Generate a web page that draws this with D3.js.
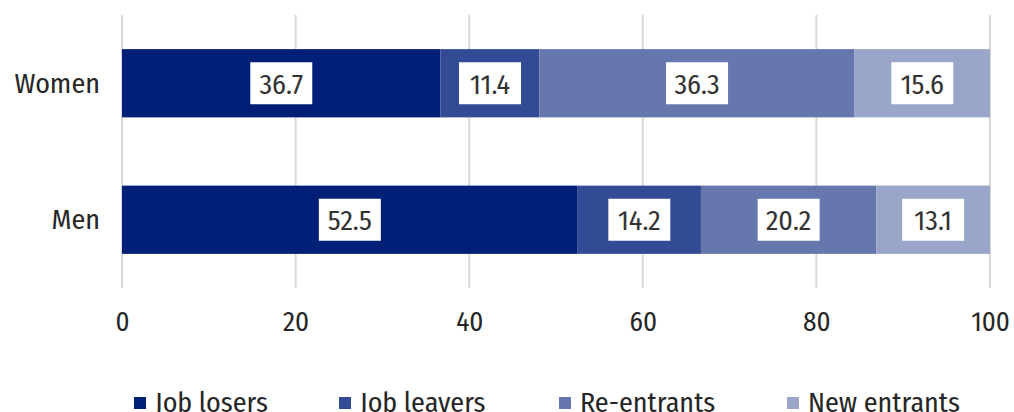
<!DOCTYPE html>
<html><head><meta charset="utf-8">
<script src="https://cdn.jsdelivr.net/npm/d3@7/dist/d3.min.js"></script>
<style>body{margin:0;background:#fff}text{font-family:"Fira Sans Condensed","Liberation Sans Narrow",sans-serif;font-weight:400}</style>
</head><body>
<svg id="c" width="1014" height="412"></svg>
<script>
const categories = ["Women", "Men"];
const series = ["Job losers", "Job leavers", "Re-entrants", "New entrants"];
const colors = ["#001f77", "#334a94", "#6677ad", "#99a5c9"];
const values = {
  "Women": [36.7, 11.4, 36.3, 15.6],
  "Men":   [52.5, 14.2, 20.2, 13.1]
};
const xTicks = [0, 20, 40, 60, 80, 100];

const svg = d3.select("#c");
const x = d3.scaleLinear().domain([0, 100]).range([122, 990]);
const y = d3.scaleBand().domain(categories).range([15, 288]).paddingInner(0.5).paddingOuter(0.25);

svg.append("g").selectAll("line").data(xTicks).join("line")
  .attr("x1", d => x(d)).attr("x2", d => x(d))
  .attr("y1", 15).attr("y2", 288)
  .attr("stroke", "#d9d9d9").attr("stroke-width", 2);

const ax = svg.append("g").attr("transform", "translate(0,322)")
  .call(d3.axisBottom(x).tickValues(xTicks).tickSize(0).tickPadding(0));
ax.select(".domain").remove();
ax.selectAll("text").attr("font-size", 27).attr("fill", "#262626").attr("dy", null)
  .attr("dominant-baseline", "central")
  .attr("font-family", "'Fira Sans Condensed', sans-serif");

const stacked = d3.stack().keys(d3.range(series.length))(categories.map(c => values[c]));
stacked.forEach((layer, si) => {
  const g = svg.append("g");
  layer.forEach((seg, ci) => {
    const cat = categories[ci];
    g.append("rect")
      .attr("x", x(seg[0])).attr("width", x(seg[1]) - x(seg[0]))
      .attr("y", y(cat)).attr("height", y.bandwidth())
      .attr("fill", colors[si]);
    const cx = (x(seg[0]) + x(seg[1])) / 2;
    const cy = y(cat) + y.bandwidth() / 2;
    const label = values[cat][si].toFixed(1);
    g.append("rect").attr("x", cx - 31).attr("y", cy - 21).attr("width", 62).attr("height", 42).attr("fill", "#fff");
    g.append("text").attr("x", cx).attr("y", cy + 1).attr("text-anchor", "middle").attr("dominant-baseline", "central")
      .attr("font-size", 28).attr("fill", "#333").text(label);
  });
});

svg.append("g").selectAll("text").data(categories).join("text")
  .attr("x", 100).attr("y", d => y(d) + y.bandwidth() / 2)
  .attr("text-anchor", "end").attr("dominant-baseline", "central")
  .attr("font-size", 28).attr("fill", "#262626").text(d => d);

const legX = [155, 360, 580, 808];
const leg = svg.append("g");
series.forEach((s, i) => {
  leg.append("rect").attr("x", legX[i] - 21).attr("y", 397).attr("width", 12).attr("height", 12).attr("fill", colors[i]);
  leg.append("text").attr("x", legX[i]).attr("y", 412)
    .attr("font-size", 28).attr("fill", "#262626").text(s);
});
</script>
</body></html>
